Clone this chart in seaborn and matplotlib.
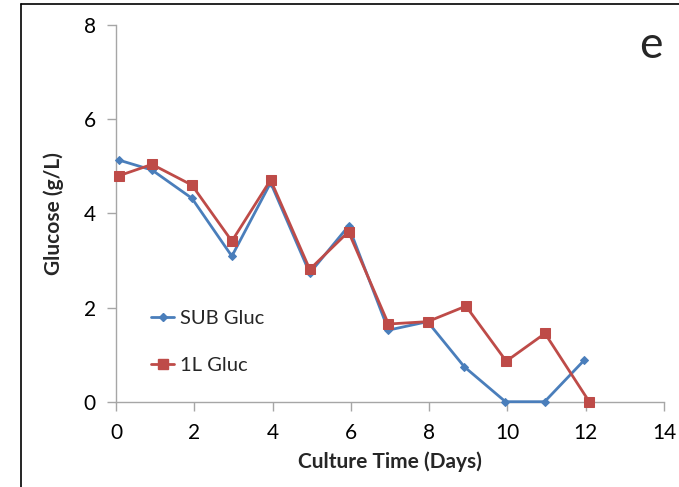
import matplotlib
matplotlib.use("Agg")
import matplotlib.pyplot as plt
from matplotlib.lines import Line2D
import seaborn as sns
import pandas as pd

# Culture time (days) and glucose concentration (g/L) for each vessel
sub_days = [0.08, 0.92, 1.94, 2.96, 3.95, 4.95, 5.94, 6.96, 7.96, 8.90, 9.95, 10.95, 11.96]
sub_gluc = [5.13, 4.92, 4.32, 3.09, 4.65, 2.73, 3.73, 1.52, 1.70, 0.74, 0.0, 0.0, 0.88]

one_l_days = [0.08, 0.92, 1.94, 2.96, 3.95, 4.95, 5.94, 6.96, 7.96, 8.94, 9.97, 10.96, 12.09]
one_l_gluc = [4.80, 5.04, 4.60, 3.41, 4.71, 2.81, 3.61, 1.65, 1.70, 2.03, 0.86, 1.45, 0.0]

x_ticks = [0, 2, 4, 6, 8, 10, 12, 14]
y_ticks = [0, 2, 4, 6, 8]

BLUE = "#4A7EBB"
RED = "#BE4B48"
GRID = "#A6A6A6"

sns.set_theme(style="white")
plt.rcParams["font.family"] = ["Lato", "DejaVu Sans"]

fig = plt.figure(figsize=(6.79, 4.87), dpi=100)
ax = fig.add_axes([116 / 679, 1 - 401.7 / 487, (664 - 116) / 679, (401.7 - 25) / 487])

sub_df = pd.DataFrame({"day": sub_days, "glucose": sub_gluc})
one_df = pd.DataFrame({"day": one_l_days, "glucose": one_l_gluc})

sns.lineplot(data=sub_df, x="day", y="glucose", ax=ax, color=BLUE, lw=2.0,
             marker="D", markersize=4, markeredgecolor=BLUE, sort=False,
             clip_on=False, zorder=3)
sns.lineplot(data=one_df, x="day", y="glucose", ax=ax, color=RED, lw=2.0,
             marker="s", markersize=6.5, markeredgecolor=RED, sort=False,
             clip_on=False, zorder=4)

ax.set_xlim(0, 14)
ax.set_ylim(0, 8)
ax.set_xticks(x_ticks)
ax.set_yticks(y_ticks)
ax.set_xticklabels([str(t) for t in x_ticks])
ax.set_yticklabels([str(t) for t in y_ticks])

for side in ("top", "right"):
    ax.spines[side].set_visible(False)
for side in ("left", "bottom"):
    ax.spines[side].set_color(GRID)
    ax.spines[side].set_linewidth(1.0)

ax.tick_params(axis="both", which="major", direction="out", length=6.5,
               width=1.0, color=GRID, labelsize=15, labelcolor="#000000",
               bottom=True, left=True)
ax.tick_params(axis="x", pad=9)
ax.tick_params(axis="y", pad=8)

ax.set_xlabel("Culture Time (Days)", fontsize=15, fontweight="bold", labelpad=6)
ax.set_ylabel("Glucose (g/L)", fontsize=15, fontweight="bold", labelpad=14)

handles = [
    Line2D([], [], color=BLUE, lw=2.0, marker="D", markersize=4),
    Line2D([], [], color=RED, lw=2.0, marker="s", markersize=6.5),
]
ax.legend(handles, ["SUB Gluc", "1L Gluc"], loc="upper left",
          bbox_to_anchor=(0.05, 0.264), frameon=False, fontsize=14.5,
          handlelength=1.1, handletextpad=0.3, labelspacing=1.45,
          borderaxespad=0)

fig.text(651 / 679, 1 - 46 / 487, "e", fontsize=32, ha="center", va="center")

# Figure panel border (left and top edges)
fig.add_artist(Line2D([21 / 679, 21 / 679], [0, 1 - 4 / 487], color="black",
                      lw=1.2, transform=fig.transFigure))
fig.add_artist(Line2D([21 / 679, 1], [1 - 4 / 487, 1 - 4 / 487], color="black",
                      lw=1.2, transform=fig.transFigure))

fig.savefig("out.png", dpi=100, facecolor="white")
